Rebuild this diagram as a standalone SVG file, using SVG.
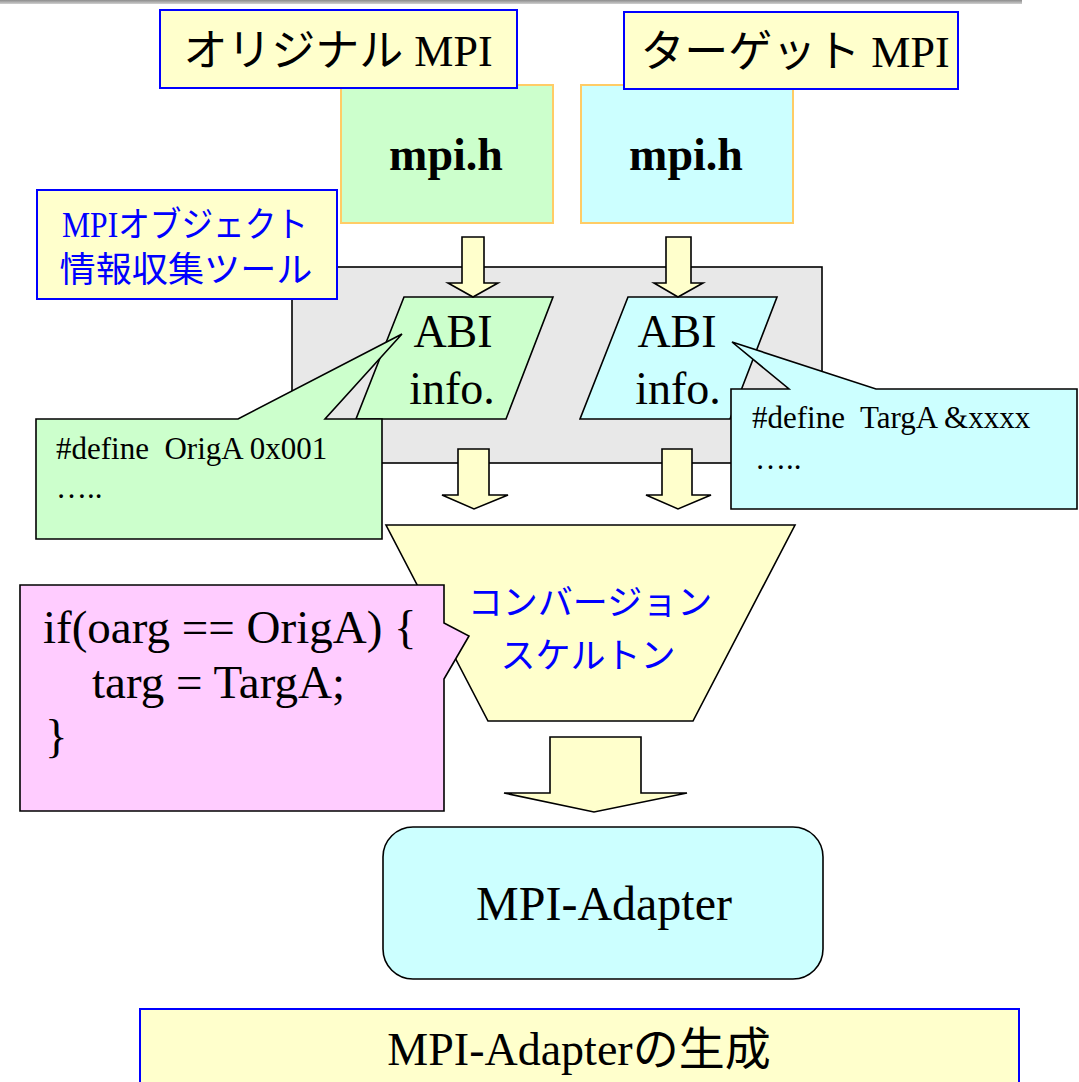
<svg xmlns="http://www.w3.org/2000/svg" width="1079" height="1082" viewBox="0 0 1079 1082">
<defs>
<linearGradient id="bar" x1="0" y1="0" x2="0" y2="1">
<stop offset="0" stop-color="#8c8c8c"/>
<stop offset="1" stop-color="#d0d0d0"/>
</linearGradient>
</defs>
<style>
.blk{stroke:#000;stroke-width:1.6;stroke-linejoin:miter}
.blu{stroke:#0000FF;stroke-width:2}
.org{stroke:#FFCC66;stroke-width:2}
.yel{fill:#FFFFCC}
.grn{fill:#CCFFCC}
.cyn{fill:#CCFFFF}
.pnk{fill:#FFCCFF}
.gry{fill:#E8E8E8}
.ser{font-family:"Liberation Serif","Noto Sans CJK JP",serif;fill:#000}
.jp{font-family:"Noto Sans CJK JP",sans-serif}
.bt{fill:#0000FF}
</style>
<rect x="0" y="0" width="1022" height="4" fill="url(#bar)"/>

<g id="tool-area">
<rect x="292" y="267" width="530" height="196" class="gry blk"/>
</g>

<g id="mpih-orig">
<rect x="341" y="85" width="212" height="138" class="grn org"/>
<text x="446" y="170" class="ser" font-size="46" font-weight="bold" text-anchor="middle">mpi.h</text>
</g>
<g id="mpih-targ">
<rect x="581" y="85" width="212" height="138" class="cyn org"/>
<text x="686" y="170" class="ser" font-size="46" font-weight="bold" text-anchor="middle">mpi.h</text>
</g>

<g id="orig-mpi">
<rect x="160" y="10" width="357" height="78" class="yel blu"/>
<text x="338" y="66" class="ser" font-size="44" text-anchor="middle">オリジナル MPI</text>
</g>
<g id="targ-mpi">
<rect x="624" y="12" width="334" height="77" class="yel blu"/>
<text x="795" y="67" class="ser" font-size="44" text-anchor="middle">ターゲット MPI</text>
</g>

<g id="collect-tool">
<rect x="37" y="190" width="300" height="109" class="yel blu"/>
<text x="185" y="237" class="ser bt" font-size="35" text-anchor="middle" textLength="246" lengthAdjust="spacingAndGlyphs">MPIオブジェクト</text>
<text x="186" y="282" class="jp bt" font-size="35" text-anchor="middle" textLength="253" lengthAdjust="spacingAndGlyphs">情報収集ツール</text>
</g>

<g id="abi-orig">
<polygon points="404,297 553,297 506,419 356,419" class="grn blk"/>
<text x="453" y="347" class="ser" font-size="46" text-anchor="middle">ABI</text>
<text x="452" y="404" class="ser" font-size="46" text-anchor="middle">info.</text>
</g>
<g id="abi-targ">
<polygon points="628,297 777,297 730,419 580,419" class="cyn blk"/>
<text x="677" y="347" class="ser" font-size="46" text-anchor="middle">ABI</text>
<text x="678" y="404" class="ser" font-size="46" text-anchor="middle">info.</text>
</g>

<g id="connectors">
<polygon points="462,237 484,237 484,283 498,283 473,297 448,283 462,283" class="yel blk"/>
<polygon points="666,237 691,237 691,283 703,283 678,297 654,283 666,283" class="yel blk"/>
<polygon points="458,449 489,449 489,495 508,495 474,509 442,495 458,495" class="yel blk"/>
<polygon points="662,449 692,449 692,495 711,495 678,509 646,495 662,495" class="yel blk"/>
<polygon points="550,737 641,737 641,793 687,793 594,812 504,793 550,793" class="yel blk"/>
</g>

<g id="callout-orig">
<polygon points="36,419 238,419 402,334 325,419 382,419 382,539 36,539" class="grn blk"/>
<text x="56" y="459" class="ser" font-size="31" xml:space="preserve">#define  OrigA 0x001</text>
<text x="56" y="498" class="ser" font-size="31">…..</text>
</g>
<g id="callout-targ">
<polygon points="731,389 789,389 732,342 876,389 1077,389 1077,509 731,509" class="cyn blk"/>
<text x="752" y="428" class="ser" font-size="31" xml:space="preserve">#define  TargA &amp;xxxx</text>
<text x="755" y="469" class="ser" font-size="31">…..</text>
</g>

<g id="conversion-skeleton">
<polygon points="386,525 795,525 693,721 488,721" class="yel blk"/>
<text x="590" y="615" class="jp bt" font-size="35" text-anchor="middle">コンバージョン</text>
<text x="588" y="668" class="jp bt" font-size="35" text-anchor="middle">スケルトン</text>
</g>

<g id="code-callout">
<polygon points="20,585 444,585 444,623 469,636 444,679 444,811 20,811" class="pnk blk"/>
<text x="43" y="643" class="ser" font-size="47">if(oarg == OrigA) {</text>
<text x="92" y="698" class="ser" font-size="47">targ = TargA;</text>
<text x="45" y="752" class="ser" font-size="47">}</text>
</g>

<g id="mpi-adapter">
<rect x="383" y="827" width="440" height="152" rx="30" ry="30" class="cyn blk"/>
<text x="604" y="920" class="ser" font-size="48" text-anchor="middle">MPI-Adapter</text>
</g>

<g id="title">
<rect x="140" y="1009" width="879" height="100" class="yel blu"/>
<text x="579" y="1065" class="ser" font-size="46" text-anchor="middle">MPI-Adapterの生成</text>
</g>
</svg>
